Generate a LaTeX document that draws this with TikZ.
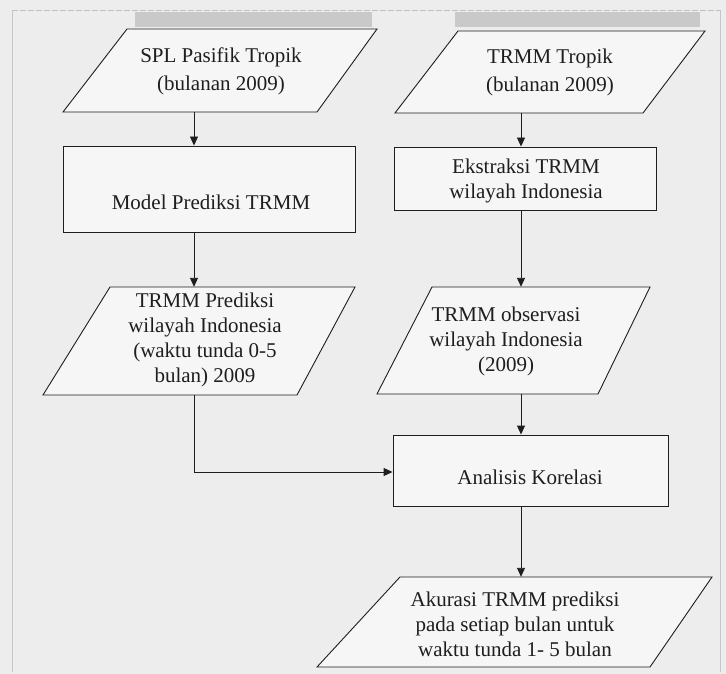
\documentclass[tikz,border=0pt]{standalone}
\usepackage{fontspec}
\setmainfont{Liberation Serif}
\usetikzlibrary{arrows.meta,calc}
\definecolor{bg}{HTML}{EDEDED}
\definecolor{shapefill}{HTML}{F6F6F6}
\definecolor{ink}{HTML}{1E1E1E}
\definecolor{smudge}{HTML}{C9C9C9}
\tikzset{
  shapeline/.style={draw=ink, line width=0.9pt, fill=shapefill},
  txt/.style={font=\fontsize{21}{25}\selectfont, align=center, text=ink, inner sep=0pt},
  procbox/.style={shapeline, rectangle, inner sep=0pt},
  iobox/.style={rectangle, inner sep=0pt},
  conn/.style={draw=ink, line width=0.9pt, -{Triangle[length=9pt,width=8pt]}}
}
\begin{document}
\begin{tikzpicture}[x=1pt,y=-1pt]
\fill[bg] (0,0) rectangle (726,674);
\useasboundingbox (0,0) rectangle (726,674);
% scan frame and shadows
\fill[smudge] (135,12) rectangle (372,27);
\fill[smudge] (455,12) rectangle (700,27);
\draw[gray!50, line width=0.7pt, dash pattern=on 6pt off 2pt] (12,10) -- (720,10);
\draw[gray!45, line width=0.7pt] (12,10) -- (12,672);
\draw[gray!45, line width=0.7pt] (720,10) -- (720,672);

% parallelogram outlines
\draw[shapeline] (127,29) -- (377,29) -- (317,112) -- (63,112) -- cycle;
\draw[shapeline] (458,31) -- (705,31) -- (643,113) -- (395,113) -- cycle;
\draw[shapeline] (110,287) -- (355,287) -- (297,395) -- (43,395) -- cycle;
\draw[shapeline] (432,287) -- (650,287) -- (598,394) -- (377,394) -- cycle;
\draw[shapeline] (400,577) -- (712,577) -- (650,667) -- (317,667) -- cycle;

% geometry nodes for the parallelograms
\node[iobox, minimum width=250pt, minimum height=83pt] (p1) at (220,70.5) {};
\node[iobox, minimum width=250pt, minimum height=82pt] (p2) at (550,72) {};
\node[iobox, minimum width=250pt, minimum height=108pt] (p3) at (201,341) {};
\node[iobox, minimum width=220pt, minimum height=107pt] (p4) at (514,340.5) {};
\node[iobox, minimum width=320pt, minimum height=90pt] (p5) at (520,622) {};

% process boxes
\node[procbox, minimum width=292pt, minimum height=86pt] (model) at (209,189) {};
\node[procbox, minimum width=262pt, minimum height=63pt] (ekst) at (525,178.5) {};
\node[procbox, minimum width=275pt, minimum height=71pt] (anal) at (530.5,470.5) {};

% texts
\node[txt] (t1) at (221,71) {SPL Pasifik Tropik\\[3pt](bulanan 2009)};
\node[txt] (t2) at (550,72.5) {TRMM Tropik\\[3pt](bulanan 2009)};
\node[txt] (tm) at (211,202) {Model Prediksi TRMM};
\node[txt] (te) at (526,180.5) {Ekstraksi TRMM\\wilayah Indonesia};
\node[txt] (t3) at (205,339.5) {TRMM Prediksi\\wilayah Indonesia\\(waktu tunda 0-5\\bulan) 2009};
\node[txt] (t4) at (506,341.5) {TRMM observasi\\wilayah Indonesia\\(2009)};
\node[txt] (ta) at (530,477) {Analisis Korelasi};
\node[txt] (t5) at (515,624) {Akurasi TRMM prediksi\\pada setiap bulan untuk\\waktu tunda 1- 5 bulan};

% connectors
\coordinate (lcol) at (194,0);
\coordinate (rcol) at (521,0);
\coordinate (bend) at (194,472);
\draw[conn] (p1.south -| lcol) -- (model.north -| lcol);
\draw[conn] (p2.south -| rcol) -- (ekst.north -| rcol);
\draw[conn] (model.south -| lcol) -- (p3.north -| lcol);
\draw[conn] (ekst.south -| rcol) -- (p4.north -| rcol);
\draw[conn] (p4.south -| rcol) -- (anal.north -| rcol);
\draw[conn] (p3.south -| bend) -- (bend) -- (anal.west |- bend);
\draw[conn] (anal.south -| rcol) -- (p5.north -| rcol);
\end{tikzpicture}
\end{document}
